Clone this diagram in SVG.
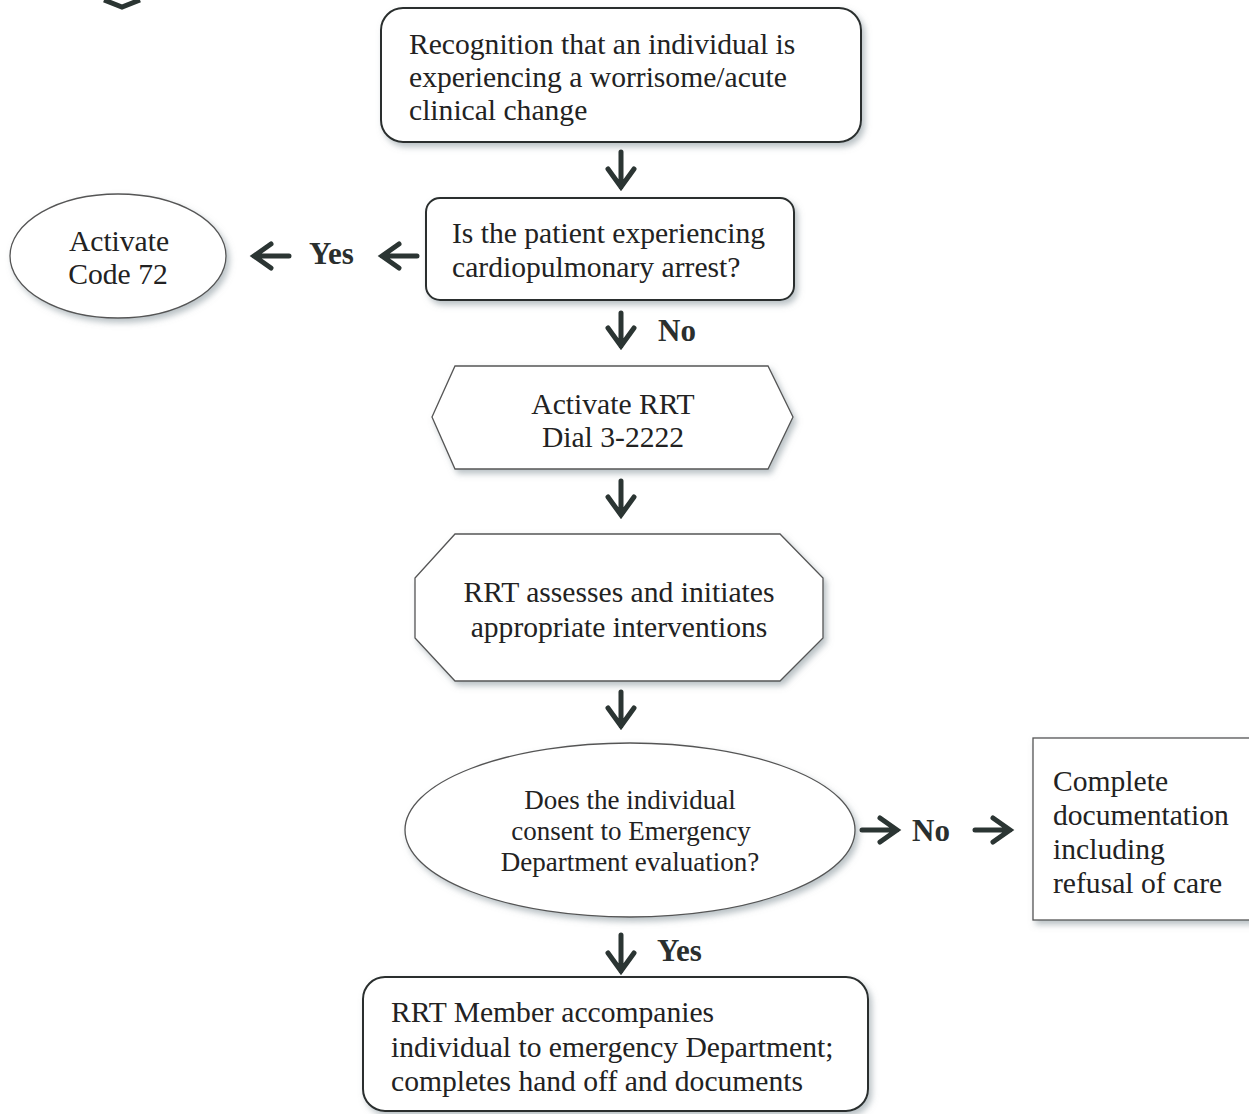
<svg xmlns="http://www.w3.org/2000/svg" width="1249" height="1114" viewBox="0 0 1249 1114">
<style>
.box{fill:#fff;stroke:#2a2f2e;stroke-width:2;filter:url(#sh)}
.thin{fill:#fff;stroke:#555;stroke-width:1.3;filter:url(#sh)}
.t{font-family:"Liberation Serif","Times New Roman",serif;font-size:29.6px;fill:#222}
.ts{font-family:"Liberation Serif","Times New Roman",serif;font-size:27px;fill:#222}
.lbl{font-family:"Liberation Serif","Times New Roman",serif;font-size:31px;font-weight:bold;fill:#2a2f2e}
.c{text-anchor:middle}
.arr{fill:none;stroke:#2b3533;stroke-width:5;stroke-linecap:round;stroke-linejoin:miter}
</style>
<defs>
<filter id="sh" x="-10%" y="-10%" width="125%" height="130%">
<feDropShadow dx="3" dy="4" stdDeviation="3" flood-color="#7f8f95" flood-opacity="0.55"/>
</filter>
</defs>
<rect width="1249" height="1114" fill="#fff"/>

<g id="fragment">
<path d="M104 0 L122 7 L140 0" fill="none" stroke="#2b3533" stroke-width="5"/>
</g>

<g id="n1">
<rect class="box" x="381" y="8" width="480" height="134" rx="22"/>
<text class="t" x="409" y="54">Recognition that an individual is</text>
<text class="t" x="409" y="87">experiencing a worrisome/acute</text>
<text class="t" x="409" y="120">clinical change</text>
</g>

<g id="n2">
<rect class="box" x="426" y="198" width="368" height="102" rx="14"/>
<text class="t" x="452" y="243">Is the patient experiencing</text>
<text class="t" x="452" y="277">cardiopulmonary arrest?</text>
</g>

<g id="n3">
<ellipse class="thin" cx="118" cy="256" rx="108" ry="62"/>
<text class="t c" x="119" y="251">Activate</text>
<text class="t c" x="118" y="284">Code 72</text>
</g>

<g id="n4">
<polygon class="thin" points="432,417 455,366 768,366 793,417 768,469 455,469"/>
<text class="t c" x="613" y="414">Activate RRT</text>
<text class="t c" x="613" y="447">Dial 3-2222</text>
</g>

<g id="n5">
<polygon class="thin" points="455,534 780,534 823,578 823,638 780,681 455,681 415,638 415,578"/>
<text class="t c" x="619" y="602">RRT assesses and initiates</text>
<text class="t c" x="619" y="637">appropriate interventions</text>
</g>

<g id="n6">
<ellipse class="thin" cx="630" cy="830" rx="225" ry="87"/>
<text class="ts c" x="630" y="809">Does the individual</text>
<text class="ts c" x="631" y="840">consent to Emergency</text>
<text class="ts c" x="630" y="871">Department evaluation?</text>
</g>

<g id="n7">
<rect class="thin" x="1033" y="738" width="230" height="182"/>
<text class="t" x="1053" y="791">Complete</text>
<text class="t" x="1053" y="825">documentation</text>
<text class="t" x="1053" y="859">including</text>
<text class="t" x="1053" y="893">refusal of care</text>
</g>

<g id="n8">
<rect class="box" x="363" y="977" width="505" height="134" rx="22"/>
<text class="t" x="391" y="1022">RRT Member accompanies</text>
<text class="t" x="391" y="1057">individual to emergency Department;</text>
<text class="t" x="391" y="1091">completes hand off and documents</text>
</g>

<g id="connectors">
<path class="arr" d="M621 152 V187 M608 169 L621 187 L634 169"/>
<path class="arr" d="M417 256 H382 M399 244 L382 256 L399 268"/>
<path class="arr" d="M289 256 H254 M271 244 L254 256 L271 268"/>
<path class="arr" d="M621 313 V346 M608 328 L621 346 L634 328"/>
<path class="arr" d="M621 481 V515 M608 497 L621 515 L634 497"/>
<path class="arr" d="M621 692 V726 M608 708 L621 726 L634 708"/>
<path class="arr" d="M862 830 H897 M880 818 L897 830 L880 842"/>
<path class="arr" d="M975 830 H1010 M993 818 L1010 830 L993 842"/>
<path class="arr" d="M621 935 V971 M608 953 L621 971 L634 953"/>
<text class="lbl" x="309" y="264">Yes</text>
<text class="lbl" x="658" y="341">No</text>
<text class="lbl" x="912" y="841">No</text>
<text class="lbl" x="657" y="961">Yes</text>
</g>
</svg>
